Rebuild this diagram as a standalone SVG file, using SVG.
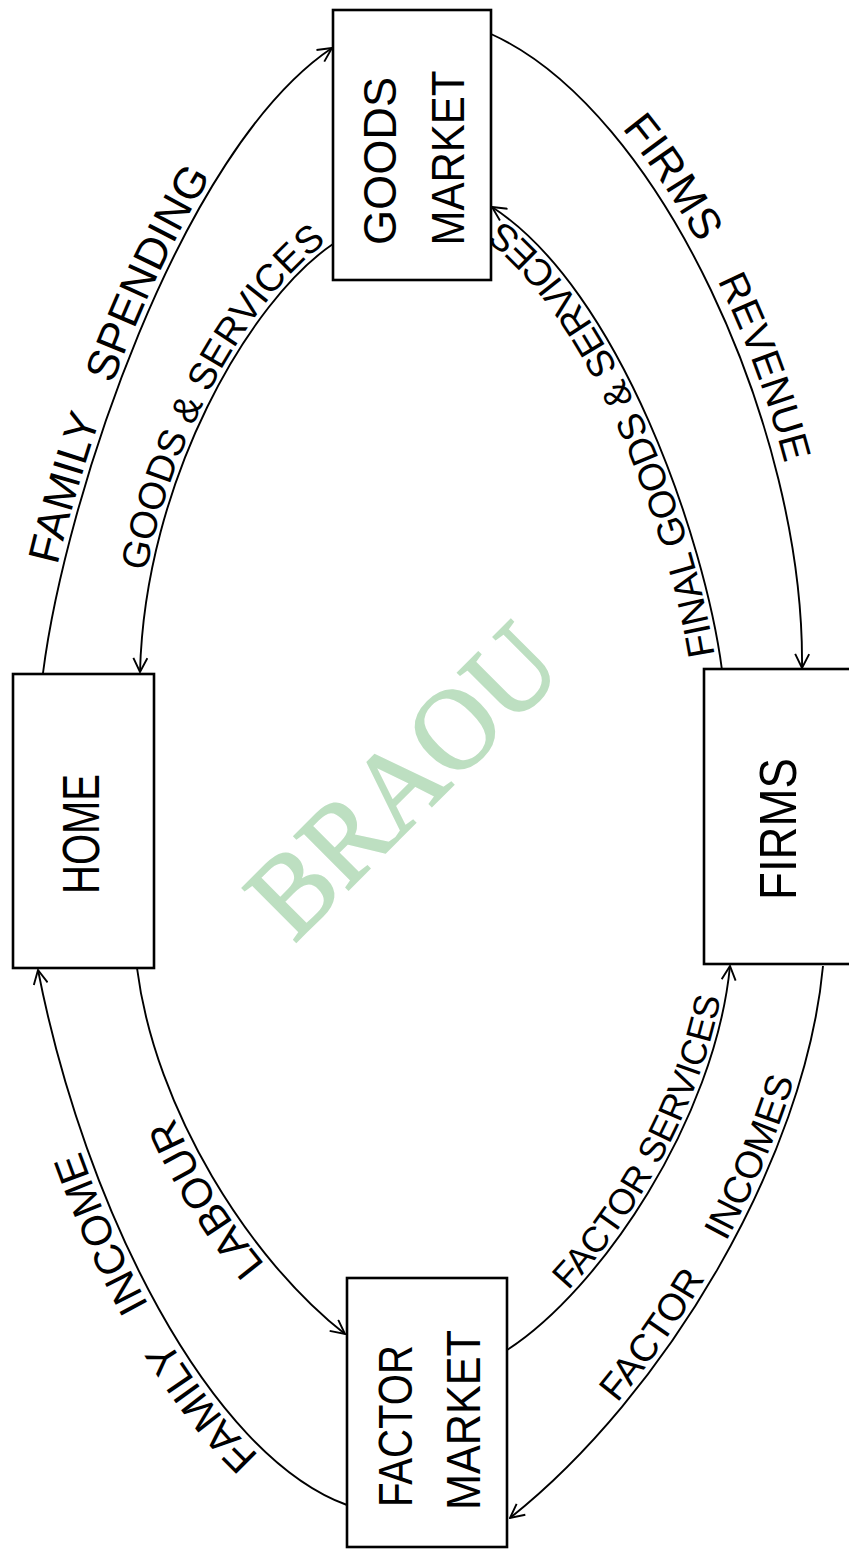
<svg xmlns="http://www.w3.org/2000/svg" width="849" height="1550" viewBox="0 0 849 1550">
<style>
.box{fill:#fff;stroke:#000;stroke-width:2.6}
.con{fill:none;stroke:#000;stroke-width:1.9;marker-end:url(#arr)}
.nt{font-family:"Liberation Sans",Arial,sans-serif;fill:#000;text-anchor:middle}
.lbl{font-family:"Liberation Sans",Arial,sans-serif;fill:#000}
.wm{font-family:"Liberation Serif","Times New Roman",serif;fill:#bddfc1;stroke:#bddfc1;stroke-width:2;text-anchor:middle}
</style>
<defs>
<marker id="arr" viewBox="0 0 16 16" refX="15" refY="8" markerWidth="16" markerHeight="16" markerUnits="userSpaceOnUse" orient="auto">
<path d="M1,1 L15,8 L1,15" fill="none" stroke="#000" stroke-width="1.9"/>
</marker>
<path id="pBr" d="M140,672 C145,480 250,300 333,244"/>
<path id="pFr" d="M345,1334 C250,1260 155,1110 137,968"/>
<path id="pHr" d="M510,1518 C665,1395 805,1160 823,966"/>
</defs>
<rect width="849" height="1550" fill="#fff"/>
<text class="wm" x="430" y="808" font-size="116" textLength="385" lengthAdjust="spacingAndGlyphs" transform="rotate(-45 430 808)">BRAOU</text>
<g id="connectors">
<path id="pA" class="con" d="M43,673 C65,500 180,150 332,48"/>
<path id="pB" class="con" d="M333,244 C250,300 145,480 140,672"/>
<path id="pC" class="con" d="M491,34 C660,110 805,430 802,668"/>
<path id="pD" class="con" d="M722,670 C705,540 620,290 492,207"/>
<path id="pE" class="con" d="M347,1505 C210,1455 85,1210 38,970"/>
<path id="pF" class="con" d="M137,968 C155,1110 250,1260 345,1334"/>
<path id="pG" class="con" d="M507,1350 C600,1290 715,1120 730,966"/>
<path id="pH" class="con" d="M823,966 C805,1160 665,1395 510,1518"/>
<text class="lbl" font-size="44" dy="-6"><textPath href="#pA" startOffset="108">FAMILY<tspan dx="24"> SPENDING</tspan></textPath></text>
<text class="lbl" font-size="38" dy="-5"><textPath href="#pBr" startOffset="100">GOODS &amp; SERVICES</textPath></text>
<text class="lbl" font-size="44" dy="-10"><textPath href="#pC" startOffset="160">FIRMS<tspan dx="30" font-size="40"> REVENUE</tspan></textPath></text>
<text class="lbl" font-size="38" dy="-5"><textPath href="#pD" startOffset="16">FINAL GOODS &amp; SERVICES</textPath></text>
<text class="lbl" font-size="42" dy="-7"><textPath href="#pE" startOffset="100">FAMILY<tspan dx="28"> INCOME</tspan></textPath></text>
<text class="lbl" font-size="42" dy="-7"><textPath href="#pFr" startOffset="105">LABOUR</textPath></text>
<text class="lbl" font-size="36" dy="-5"><textPath href="#pG" startOffset="86">FACTOR SERVICES</textPath></text>
<text class="lbl" font-size="38" dy="-6"><textPath href="#pHr" startOffset="158">FACTOR<tspan dx="32"> INCOMES</tspan></textPath></text>
</g>
<g id="goods-market">
<rect class="box" x="333" y="10" width="158" height="270"/>
<text class="nt" font-size="46" textLength="168" lengthAdjust="spacingAndGlyphs" transform="translate(380,161) rotate(-90)" y="16">GOODS</text>
<text class="nt" font-size="46" textLength="175" lengthAdjust="spacingAndGlyphs" transform="translate(448,158) rotate(-90)" y="16">MARKET</text>
</g>
<g id="home">
<rect class="box" x="13" y="674" width="141" height="294"/>
<text class="nt" font-size="52" textLength="120" lengthAdjust="spacingAndGlyphs" transform="translate(80,834) rotate(-90)" y="19">HOME</text>
</g>
<g id="firms">
<rect class="box" x="704" y="669" width="160" height="295"/>
<text class="nt" font-size="52" textLength="142" lengthAdjust="spacingAndGlyphs" transform="translate(777,829) rotate(-90)" y="19">FIRMS</text>
</g>
<g id="factor-market">
<rect class="box" x="347" y="1278" width="160" height="269"/>
<text class="nt" font-size="48" textLength="162" lengthAdjust="spacingAndGlyphs" transform="translate(395,1426) rotate(-90)" y="17">FACTOR</text>
<text class="nt" font-size="48" textLength="180" lengthAdjust="spacingAndGlyphs" transform="translate(463,1420) rotate(-90)" y="17">MARKET</text>
</g>
</svg>
